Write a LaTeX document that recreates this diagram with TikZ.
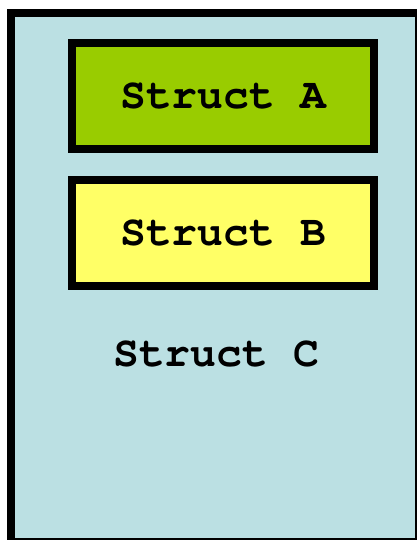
\documentclass[tikz,border=0pt]{standalone}
\usepackage[T1]{fontenc}
\usepackage{courier}
\definecolor{paleblue}{HTML}{BBE0E3}
\definecolor{leafgreen}{HTML}{99CC00}
\definecolor{lightyellow}{HTML}{FFFF66}
\tikzset{
  structbox/.style={draw=black, line width=8pt},
  structlabel/.style={font=\fontsize{43}{47}\selectfont\ttfamily\bfseries, text=black}
}
\begin{document}
\begin{tikzpicture}[x=1pt, y=-1pt]
  \useasboundingbox (0,0) rectangle (417,540);
  % outer container (extends past the right and bottom page edges)
  \draw[structbox, fill=paleblue] (11,13.5) rectangle (418.5,542);
  % inner structures
  \draw[structbox, fill=leafgreen] (72,43.5) rectangle (374,149.5);
  \draw[structbox, fill=lightyellow] (72,180) rectangle (374,286);
  \node[structlabel] (a) at (223.5,96) {Struct A};
  \node[structlabel] (b) at (223.5,233) {Struct B};
  \node[structlabel] (c) at (216.5,354) {Struct C};
\end{tikzpicture}
\end{document}
